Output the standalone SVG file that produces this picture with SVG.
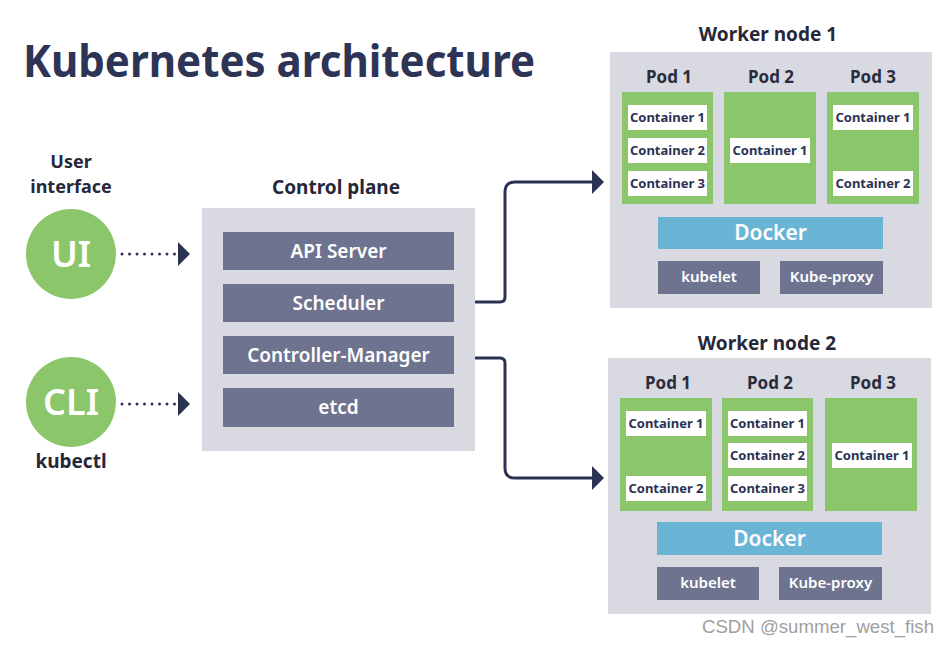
<svg xmlns="http://www.w3.org/2000/svg" width="949" height="645" viewBox="0 0 949 645">
<defs>
<style>
text{font-family:"Noto Sans","Open Sans","DejaVu Sans",sans-serif;font-weight:bold;text-anchor:middle}
.title{font-size:45px;fill:#2d3456;text-anchor:start}
.h{font-size:19px;fill:#26283a}
.hs{font-size:18px;fill:#26283a}
.pod{font-size:17px;fill:#2b2d3c}
.panel{fill:#d8d9e1}
.bar{fill:#6e7490}
.bart{font-size:19px;fill:#ffffff;font-weight:600}
.green{fill:#8cc66b}
.cont{fill:#ffffff}
.ct{font-size:13px;fill:#2b3252}
.docker{fill:#6ab4d6}
.dt{font-size:21px;fill:#ffffff;font-weight:600}
.small{fill:#6e7490}
.st{font-size:15px;fill:#ffffff;font-weight:600}
.circ{fill:#8cc66b}
.ct2{font-size:36px;fill:#ffffff;font-weight:600}
.conn{fill:none;stroke:#2b3252;stroke-width:3}
.dot{fill:none;stroke:#2b3252;stroke-width:3;stroke-dasharray:0 7.5;stroke-linecap:round}
.wm{font-family:"Liberation Sans",Arial,sans-serif;font-weight:normal;font-size:19px;fill:#a0a0a0;text-anchor:start}
</style>
<marker id="ah" viewBox="0 0 12 24" refX="0" refY="12" markerWidth="12" markerHeight="24" markerUnits="userSpaceOnUse" orient="auto">
<path d="M0,0 L12,12 L0,24 Z" fill="#2b3252"/>
</marker>
</defs>
<rect width="949" height="645" fill="#ffffff"/>
<text id="title" class="title" x="23" y="77" textLength="512" lengthAdjust="spacingAndGlyphs">Kubernetes architecture</text>

<g id="ui">
<text class="hs" x="71" y="168">User</text>
<text class="hs" x="71" y="193">interface</text>
<circle class="circ" cx="71" cy="254" r="45"/>
<text class="ct2" x="71" y="267">UI</text>
</g>
<g id="cli">
<circle class="circ" cx="71" cy="402" r="45"/>
<text class="ct2" x="71" y="415">CLI</text>
<text class="h" x="71" y="468">kubectl</text>
</g>

<g id="control-plane">
<text class="h" x="336" y="194">Control plane</text>
<rect class="panel" x="202" y="208" width="273" height="243"/>
<rect class="bar" x="223" y="232" width="231" height="38"/>
<text class="bart" x="338.5" y="258">API Server</text>
<rect class="bar" x="223" y="284" width="231" height="38"/>
<text class="bart" x="338.5" y="310">Scheduler</text>
<rect class="bar" x="223" y="336" width="231" height="38"/>
<text class="bart" x="338.5" y="362">Controller-Manager</text>
<rect class="bar" x="223" y="388" width="231" height="39"/>
<text class="bart" x="338.5" y="414">etcd</text>
</g>

<g id="worker-node-1">
<text class="h" x="768" y="41">Worker node 1</text>
<rect class="panel" x="610" y="52" width="322" height="256"/>
<text class="pod" x="669" y="83">Pod 1</text>
<text class="pod" x="771" y="83">Pod 2</text>
<text class="pod" x="873" y="83">Pod 3</text>
<rect class="green" x="622" y="92" width="91" height="112"/>
<rect class="green" x="724" y="92" width="92" height="112"/>
<rect class="green" x="827" y="92" width="92" height="112"/>
<rect class="cont" x="628" y="105" width="79" height="25"/>
<text class="ct" x="667.5" y="122">Container 1</text>
<rect class="cont" x="628" y="138" width="79" height="25"/>
<text class="ct" x="667.5" y="155">Container 2</text>
<rect class="cont" x="628" y="171" width="79" height="25"/>
<text class="ct" x="667.5" y="188">Container 3</text>
<rect class="cont" x="730" y="138" width="80" height="25"/>
<text class="ct" x="770" y="155">Container 1</text>
<rect class="cont" x="833" y="105" width="80" height="25"/>
<text class="ct" x="873" y="122">Container 1</text>
<rect class="cont" x="833" y="171" width="80" height="25"/>
<text class="ct" x="873" y="188">Container 2</text>
<rect class="docker" x="658" y="217" width="225" height="32"/>
<text class="dt" x="770.5" y="240">Docker</text>
<rect class="small" x="658" y="261" width="102" height="33"/>
<text class="st" x="709" y="282">kubelet</text>
<rect class="small" x="780" y="261" width="103" height="33"/>
<text class="st" x="831.5" y="282">Kube-proxy</text>
</g>

<g id="worker-node-2">
<text class="h" x="767" y="350">Worker node 2</text>
<rect class="panel" x="608" y="358" width="323" height="256"/>
<text class="pod" x="668" y="389">Pod 1</text>
<text class="pod" x="770" y="389">Pod 2</text>
<text class="pod" x="873" y="389">Pod 3</text>
<rect class="green" x="620" y="398" width="92" height="113"/>
<rect class="green" x="722" y="398" width="91" height="113"/>
<rect class="green" x="825" y="398" width="92" height="113"/>
<rect class="cont" x="626" y="411" width="80" height="25"/>
<text class="ct" x="666" y="428">Container 1</text>
<rect class="cont" x="626" y="476" width="80" height="25"/>
<text class="ct" x="666" y="493">Container 2</text>
<rect class="cont" x="728" y="411" width="79" height="25"/>
<text class="ct" x="767.5" y="428">Container 1</text>
<rect class="cont" x="728" y="443" width="79" height="25"/>
<text class="ct" x="767.5" y="460">Container 2</text>
<rect class="cont" x="728" y="476" width="79" height="25"/>
<text class="ct" x="767.5" y="493">Container 3</text>
<rect class="cont" x="832" y="443" width="80" height="25"/>
<text class="ct" x="872" y="460">Container 1</text>
<rect class="docker" x="657" y="522" width="225" height="33"/>
<text class="dt" x="769.5" y="546">Docker</text>
<rect class="small" x="657" y="567" width="102" height="33"/>
<text class="st" x="708" y="588">kubelet</text>
<rect class="small" x="779" y="567" width="103" height="33"/>
<text class="st" x="830.5" y="588">Kube-proxy</text>
</g>

<g id="connectors">
<path class="dot" d="M122,254 H178" marker-end="url(#ah)"/>
<path class="dot" d="M122,404 H178" marker-end="url(#ah)"/>
<path class="conn" d="M475,302 H500 Q505,302 505,297 V192 Q505,182 515,182 H592" marker-end="url(#ah)"/>
<path class="conn" d="M475,358 H500 Q505,358 505,363 V468 Q505,478 515,478 H592" marker-end="url(#ah)"/>
</g>

<text class="wm" x="702" y="633" textLength="232" lengthAdjust="spacingAndGlyphs">CSDN @summer_west_fish</text>
</svg>
